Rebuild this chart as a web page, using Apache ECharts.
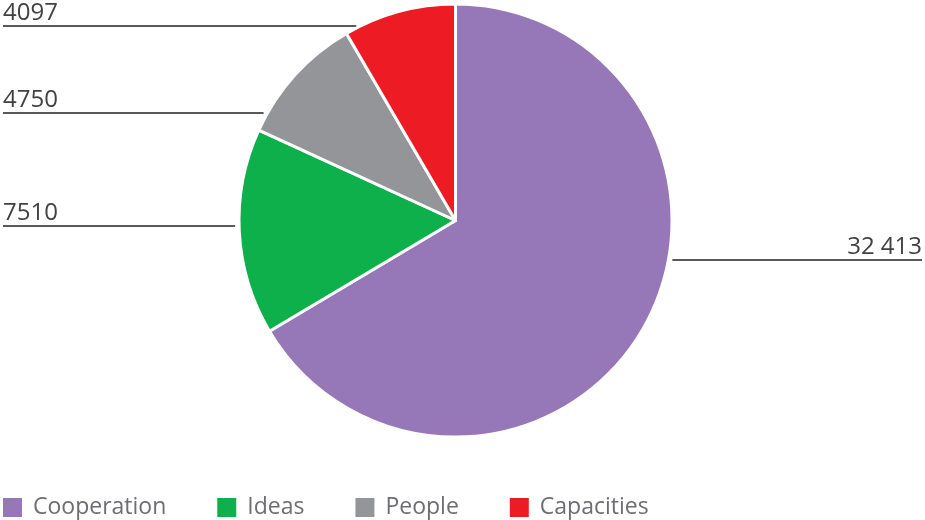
<!DOCTYPE html>
<html>
<head>
<meta charset="utf-8">
<script src="https://cdn.jsdelivr.net/npm/echarts@6/dist/echarts.min.js"></script>
<style>
  html, body { margin: 0; padding: 0; background: #ffffff; }
  #chart { width: 925px; height: 520px; }
</style>
</head>
<body>
<div id="chart"></div>
<script>
// Project budget by component
const categories = ['Cooperation', 'Ideas', 'People', 'Capacities'];
const values = [32413, 7510, 4750, 4097];
const colors = ['#9677b7', '#0db04b', '#939598', '#ed1c24'];

// Pie geometry and the height of each leader line
const CX = 455.5, CY = 220.5, R = 216.5;
const leaderY = [260, 226, 113, 26];
const LINE_GAP = 4;

function fmt(v) {
  const s = String(v);
  return v >= 10000 ? s.replace(/\B(?=(\d{3})+(?!\d))/g, ' ') : s;
}

const chart = echarts.init(document.getElementById('chart'), null, { renderer: 'canvas' });
const W = 925;

chart.setOption({
  animation: false,
  color: colors,
  textStyle: { fontFamily: 'Open Sans' },
  legend: {
    left: 3,
    top: 496,
    padding: 0,
    itemWidth: 19,
    itemHeight: 19,
    itemGap: 51,
    icon: 'rect',
    selectedMode: false,
    itemStyle: { borderWidth: 0 },
    data: categories,
    textStyle: {
      fontFamily: 'Open Sans',
      fontSize: 23,
      color: '#6d6e71',
      padding: [0, 0, 0, 6]
    }
  },
  series: [{
    type: 'pie',
    center: [CX, CY],
    radius: R,
    startAngle: 90,
    clockwise: true,
    avoidLabelOverlap: false,
    emphasis: { disabled: true },
    itemStyle: { borderColor: '#ffffff', borderWidth: 3 },
    label: {
      show: true,
      formatter: p => fmt(p.value),
      fontFamily: 'Open Sans',
      fontSize: 24,
      lineHeight: 24,
      color: '#414042'
    },
    labelLine: {
      show: true,
      length: 5,
      length2: 5,
      lineStyle: { color: '#58595b', width: 2 }
    },
    labelLayout: function (params) {
      const i = params.dataIndex;
      const y = leaderY[i];
      const dx = Math.sqrt(Math.max(0, R * R - (y - CY) * (y - CY)));
      const right = i === 0;
      const edgeX = right ? CX + dx + LINE_GAP : CX - dx - LINE_GAP;
      const endX = right ? W - 3 : 3;
      return {
        x: endX,
        y: y - 1,
        align: right ? 'right' : 'left',
        verticalAlign: 'bottom',
        labelLinePoints: [[edgeX, y], [edgeX, y], [endX, y]]
      };
    },
    data: categories.map((name, i) => ({ name, value: values[i] }))
  }]
});
</script>
</body>
</html>
